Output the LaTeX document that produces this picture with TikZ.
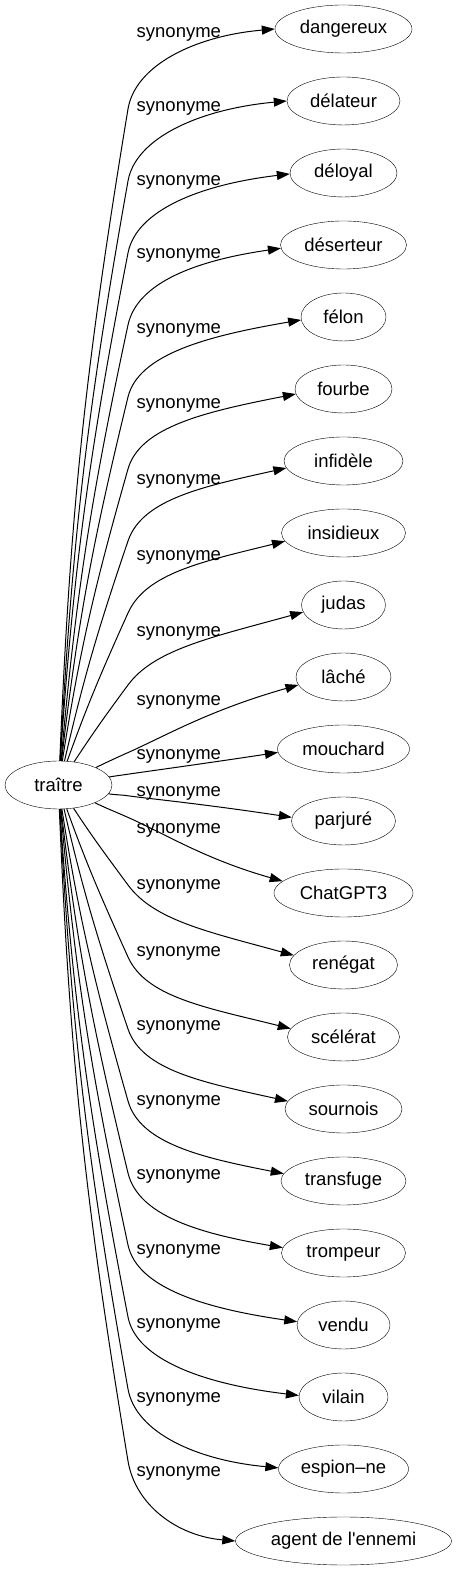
\documentclass[tikz,border=0pt]{standalone}
\usepackage{fontspec}
\setmainfont{Liberation Sans}
\usetikzlibrary{shapes.geometric, arrows.meta, calc}

\begin{document}
\begin{tikzpicture}[x=1pt, y=1pt, font=\fontsize{18.5}{22}\selectfont,
  mot/.style={draw, ellipse, minimum height=48, inner sep=0pt},
  lien/.style={-{Triangle[length=13pt,width=9pt]}, line width=1pt}]
\useasboundingbox (0,0) rectangle (456,1571);
\node[mot, minimum width=107] (traitre) at (58.5,786) {traître};
\foreach \txt/\lw/\ly [count=\i from 0] in {dangereux/137/33, délateur/113/107,
  déloyal/107/181, déserteur/126/254, félon/85/329, fourbe/97/404,
  infidèle/119/480, insidieux/124/556, judas/84/632, lâché/95/701,
  mouchard/132/755, parjuré/104/792, ChatGPT3/139/829, renégat/108/885,
  scélérat/112/952, sournois/117/1026, transfuge/125/1101, trompeur/124/1175,
  vendu/93/1250, vilain/89/1324, espion--ne/130/1398,
  agent de l\textquotesingle{}ennemi/216/1472} {
  \pgfmathsetmacro\ty{1542-72*\i}
  \pgfmathsetmacro\da{abs(\ty-786)}
  \pgfmathsetmacro\sg{ifthenelse(\ty>786,1,-1)}
  % bend of the edge
  \pgfmathsetmacro\bx{128}
  \pgfmathsetmacro\by{\ty-\sg*min(80,0.7*\da)}
  \pgfmathsetmacro\tc{atan2(\by-786,\bx-58.5)}
  \pgfmathsetmacro\dl{\sg*3.5*min(1,\da/400)}
  \pgfmathsetmacro\ts{mod(\tc+\dl+360,360)}
  \pgfmathsetmacro\tb{mod(\tc-\dl+360,360)}
  \pgfmathsetmacro\tbi{mod(\tb+180,360)}
  % arrival on the ellipse
  \pgfmathsetmacro\ph{max(0,min(0.1*\da,14-0.02*\da))}
  \pgfmathsetmacro\an{180+\sg*\ph}
  \pgfmathsetmacro\ai{180+\sg*(\ph+5)}
  \pgfmathsetmacro\dout{0.55*abs(\ty-\by)}
  \pgfmathsetmacro\din{0.55*(343.5-\lw/2-\bx)}
  \node[mot, minimum width=\lw] (syn\i) at (343.5,\ty) {\txt};
  \draw[lien] (traitre.\ts) to[out=\ts, in=\tbi] (\bx,\by)
    to[out=\tb, in=\ai, out distance=\dout pt, in distance=\din pt] (syn\i.\an);
  \node[anchor=base west, inner sep=0pt] (lab\i) at (136.5,1566-\ly) {synonyme};
}
\end{tikzpicture}
\end{document}
